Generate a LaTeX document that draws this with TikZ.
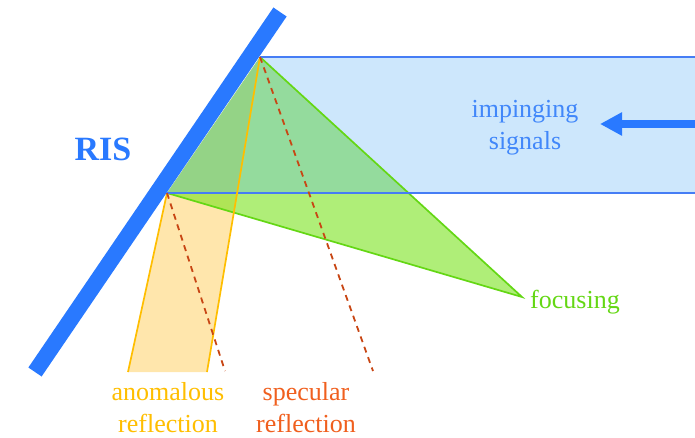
\documentclass[tikz,border=0pt]{standalone}
\usepackage{fontspec}
\setmainfont{Liberation Serif}
\usetikzlibrary{arrows.meta}
\definecolor{risblue}{RGB}{41,121,255}
\definecolor{sigblue}{RGB}{70,125,245}
\definecolor{sigfill}{RGB}{88,175,245}
\definecolor{focgreen}{RGB}{100,215,20}
\definecolor{focfill}{RGB}{122,227,30}
\definecolor{anoorange}{RGB}{255,190,0}
\definecolor{anofill}{RGB}{255,230,172}
\definecolor{specred}{RGB}{200,70,20}
\definecolor{spectext}{RGB}{240,95,30}
\definecolor{imptext}{RGB}{65,135,250}
\tikzset{
  lbl/.style={font=\fontsize{26}{32}\selectfont, align=center, inner sep=0pt},
  dashline/.style={specred, line width=1.8pt, dash pattern=on 6pt off 5pt},
  edge/.style={line width=1.7pt},
}
\begin{document}
\begin{tikzpicture}[x=1pt,y=-1pt]
\useasboundingbox (0,0) rectangle (695,438);
% key points
\coordinate (A) at (260,57);
\coordinate (B) at (167,193);
\coordinate (F) at (522,297);
\coordinate (RT) at (695,57);
\coordinate (RB) at (695,193);
\coordinate (AL) at (128,372);
\coordinate (AR) at (207,372);
\coordinate (SA) at (225,371);
\coordinate (SB) at (373,371);
\coordinate (BarT) at (280,12);
\coordinate (BarB) at (35,372);
\coordinate (ArS) at (695,124);
\coordinate (ArE) at (600,124);
% anomalous reflection
\fill[anofill] (B) -- (AL) -- (AR) -- (A) -- cycle;
% focusing
\fill[focfill, fill opacity=0.6] (A) -- (F) -- (B) -- cycle;
% impinging signals beam
\fill[sigfill, fill opacity=0.3] (A) -- (RT) -- (RB) -- (B) -- cycle;
\draw[focgreen, edge] (A) -- (F) -- (B);
\draw[sigblue, edge] (A) -- (RT);
\draw[sigblue, edge] (B) -- (RB);
\draw[anoorange, edge] (B) -- (AL);
\draw[anoorange, edge] (A) -- (AR);
% specular
\draw[dashline] (B) -- (SA);
\draw[dashline] (A) -- (SB);
% RIS bar
\draw[risblue, line width=16pt] (BarB) -- (BarT);
% arrow
\draw[risblue, line width=7.5pt, -{Triangle[length=22pt,width=22pt]}] (ArS) -- (ArE);
% labels
\node[font=\fontsize{34}{40}\selectfont\bfseries, text=risblue, inner sep=0pt] (ris) at (103,149) {RIS};
\node[lbl, text=imptext] (imp) at (525,128) {impinging\\signals};
\node[lbl, text=anoorange, anchor=north] (ano) at (168,382) {anomalous\\reflection};
\node[lbl, text=spectext, anchor=north] (spe) at (306,382) {specular\\reflection};
\node[lbl, text=focgreen, anchor=west] (foc) at (530,302) {focusing};
\end{tikzpicture}
\end{document}
